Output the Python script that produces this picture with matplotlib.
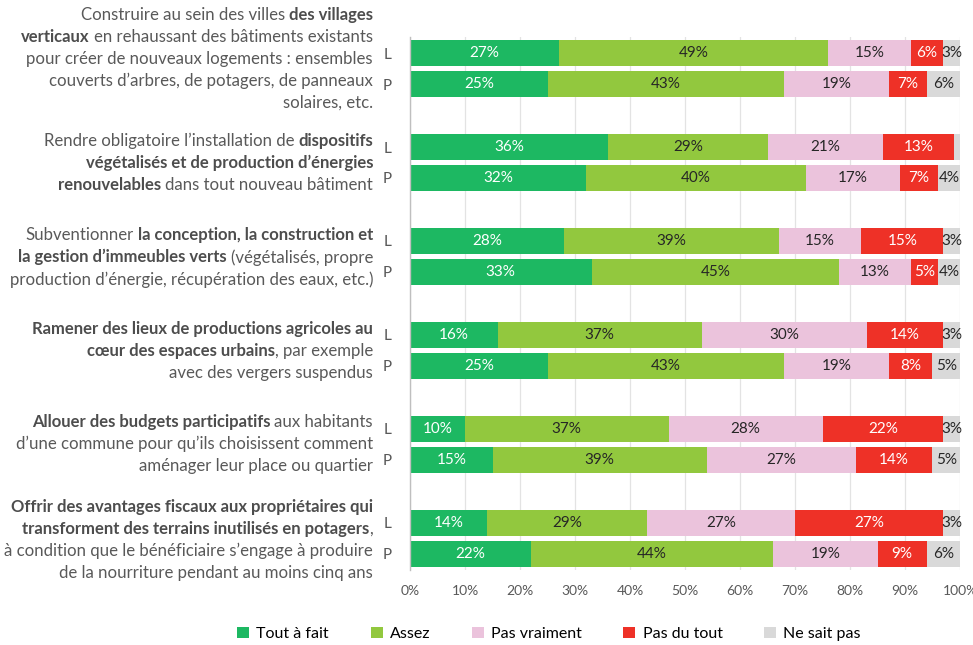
import matplotlib
matplotlib.use("Agg")
import matplotlib.pyplot as plt
from matplotlib.patches import Patch
import numpy as np

# ---- data -------------------------------------------------------------
categories = ["Tout à fait", "Assez", "Pas vraiment", "Pas du tout", "Ne sait pas"]
colors = ["#1DB862", "#92C83E", "#EBC3DC", "#EE3127", "#D9D9D9"]
text_colors = ["white", "#262626", "#262626", "white", "#262626"]

row_labels = ["L", "P"]

# one entry per proposal, in category order
tout_a_fait_L = [27, 36, 28, 16, 10, 14]
assez_L       = [49, 29, 39, 37, 37, 29]
pas_vraiment_L = [15, 21, 15, 30, 28, 27]
pas_du_tout_L = [6, 13, 15, 14, 22, 27]
ne_sait_pas_L = [3, 1, 3, 3, 3, 3]

tout_a_fait_P = [25, 32, 33, 25, 15, 22]
assez_P       = [43, 40, 45, 43, 39, 44]
pas_vraiment_P = [19, 17, 13, 19, 27, 19]
pas_du_tout_P = [7, 7, 5, 8, 14, 9]
ne_sait_pas_P = [6, 4, 4, 5, 5, 6]

# proposal texts, **bold** marks emphasised parts
proposals = [
    ["Construire au sein des villes **des villages**",
     "**verticaux** en rehaussant des bâtiments existants",
     "pour créer de nouveaux logements : ensembles",
     "couverts d’arbres, de potagers, de panneaux",
     "solaires, etc."],
    ["Rendre obligatoire l’installation de **dispositifs**",
     "**végétalisés et de production d’énergies**",
     "**renouvelables** dans tout nouveau bâtiment"],
    ["Subventionner **la conception, la construction et**",
     "**la gestion d’immeubles verts** (végétalisés, propre",
     "production d’énergie, récupération des eaux, etc.)"],
    ["**Ramener des lieux de productions agricoles au**",
     "**cœur des espaces urbains**, par exemple",
     "avec des vergers suspendus"],
    ["**Allouer des budgets participatifs** aux habitants",
     "d’une commune pour qu’ils choisissent comment",
     "aménager leur place ou quartier"],
    ["**Offrir des avantages fiscaux aux propriétaires qui**",
     "**transforment des terrains inutilisés en potagers**,",
     "à condition que le bénéficiaire s’engage à produire",
     "de la nourriture pendant au moins cinq ans"],
]

xtick_values = list(range(0, 101, 10))
xtick_labels = [f"{v}%" for v in xtick_values]

# ---- layout -----------------------------------------------------------
FONT = "Lato"
SIZES = {"normal": 12.1, "bold": 12.0}
W, H = 973, 645
fig = plt.figure(figsize=(W / 100, H / 100), dpi=100)
ax = fig.add_axes([410 / W, 1 - 570 / H, 550 / W, 533 / H])

GROUP_STEP = 3.03
BAR_H = 0.84
L_vals = np.array([tout_a_fait_L, assez_L, pas_vraiment_L, pas_du_tout_L, ne_sait_pas_L])
P_vals = np.array([tout_a_fait_P, assez_P, pas_vraiment_P, pas_du_tout_P, ne_sait_pas_P])
n_groups = L_vals.shape[1]

centers_L = np.arange(n_groups) * GROUP_STEP
centers_P = centers_L + 1

for vals, ys in ((L_vals, centers_L), (P_vals, centers_P)):
    left = np.zeros(n_groups)
    for k in range(len(categories)):
        ax.barh(ys, vals[k], left=left, height=BAR_H, color=colors[k],
                zorder=3, linewidth=0)
        for i in range(n_groups):
            v = vals[k, i]
            if v >= 3:
                ax.text(left[i] + v / 2, ys[i], f"{v}%", ha="center",
                        va="center", color=text_colors[k], fontsize=11,
                        family=FONT, zorder=4)
        left += vals[k]

ax.set_xlim(0, 100)
ax.set_ylim(16.68, -0.52)
ax.set_xticks(xtick_values)
ax.set_xticklabels(xtick_labels, family=FONT, fontsize=10, color="#595959")
yt = np.sort(np.concatenate([centers_L, centers_P]))
ax.set_yticks(yt)
ax.set_yticklabels(row_labels * n_groups, family=FONT, fontsize=11,
                   color="#595959")
ax.tick_params(axis="both", length=0)
ax.tick_params(axis="y", pad=13)
ax.tick_params(axis="x", pad=11)
ax.grid(axis="x", color="#E3E3E3", linewidth=0.9, zorder=0)
for s in ("top", "right", "bottom"):
    ax.spines[s].set_visible(False)
ax.spines["left"].set_color("#BFBFBF")
ax.spines["left"].set_linewidth(1.0)
ax.spines["left"].set_zorder(5)

# ---- proposal labels with mixed weights ---------------------------------
renderer = fig.canvas.get_renderer()


def text_width(s, weight):
    t = fig.text(0, 0, s, family=FONT, fontsize=SIZES[weight], weight=weight)
    w = t.get_window_extent(renderer).width
    t.remove()
    return w


space_w = {w: text_width("x x", w) - text_width("xx", w) for w in ("normal", "bold")}


def parse(line):
    parts = line.split("**")
    segs = []
    for i, p in enumerate(parts):
        if p:
            segs.append((p, "bold" if i % 2 else "normal"))
    return segs


def draw_line(line, x_right, y_disp):
    x = x_right
    for txt, weight in reversed(parse(line)):
        trail = len(txt) - len(txt.rstrip(" "))
        x -= trail * space_w[weight]
        core = txt.strip(" ")
        color = "#4D4D4D" if weight == "bold" else "#595959"
        t = fig.text(x / W, y_disp / H, core, ha="right", va="center",
                     family=FONT, fontsize=SIZES[weight], weight=weight,
                     color=color)
        x = t.get_window_extent(renderer).x0
        lead = len(txt) - len(txt.lstrip(" "))
        x -= lead * space_w[weight]


LINE_STEP = 0.71
shifts = [-0.31, 0.0, 0.03, 0.02, 0.0, 0.06]
for g, lines in enumerate(proposals):
    mid = (centers_L[g] + centers_P[g]) / 2 + shifts[g]
    n = len(lines)
    for j, line in enumerate(lines):
        y_data = mid + (j - (n - 1) / 2) * LINE_STEP
        y_disp = ax.transData.transform((0, y_data))[1]
        draw_line(line, 373, y_disp)

# ---- legend -------------------------------------------------------------
handles = [Patch(facecolor=c, edgecolor="none") for c in colors]
fig.legend(handles, categories, loc="center", bbox_to_anchor=(549 / W, 1 - 634 / H),
           ncol=5, frameon=False, handlelength=0.75, handleheight=0.75,
           handletextpad=0.45, columnspacing=2.6,
           prop={"family": FONT, "size": 11.5})

fig.savefig("out.png", dpi=100)
